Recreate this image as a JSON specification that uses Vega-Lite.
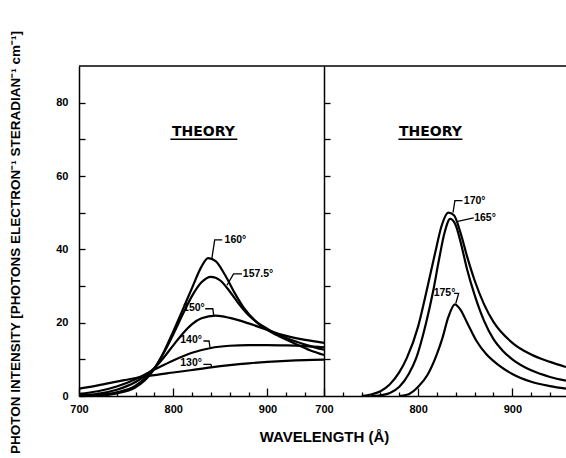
{
  "$schema": "https://vega.github.io/schema/vega-lite/v6.json",
  "padding": {"left": 7, "top": 30, "right": 0, "bottom": 0},
  "background": "white",
  "spacing": 0,
  "bounds": "flush",
  "config": {
    "view": {"stroke": null},
    "axis": {
      "domainColor": "black", "domainWidth": 1.5, "tickColor": "black", "tickWidth": 1.3,
      "labelColor": "black", "labelFont": "Liberation Sans", "labelFontWeight": "bold", "labelFontSize": 11,
      "titleColor": "black", "titleFont": "Liberation Sans", "titleFontWeight": "bold", "grid": false
    }
  },
  "datasets": {
    "curves": [
      {"panel": "L", "angle": "130", "wl": 700, "v": 2.0}, {"panel": "L", "angle": "130", "wl": 720, "v": 2.9}, {"panel": "L", "angle": "130", "wl": 740, "v": 3.9}, {"panel": "L", "angle": "130", "wl": 760, "v": 4.9}, {"panel": "L", "angle": "130", "wl": 780, "v": 5.7}, {"panel": "L", "angle": "130", "wl": 800, "v": 6.4}, {"panel": "L", "angle": "130", "wl": 820, "v": 7.1}, {"panel": "L", "angle": "130", "wl": 840, "v": 7.8}, {"panel": "L", "angle": "130", "wl": 860, "v": 8.4}, {"panel": "L", "angle": "130", "wl": 880, "v": 8.9}, {"panel": "L", "angle": "130", "wl": 900, "v": 9.3}, {"panel": "L", "angle": "130", "wl": 920, "v": 9.6}, {"panel": "L", "angle": "130", "wl": 940, "v": 9.8}, {"panel": "L", "angle": "130", "wl": 960, "v": 9.9},
      {"panel": "L", "angle": "140", "wl": 700, "v": 0.6}, {"panel": "L", "angle": "140", "wl": 720, "v": 1.3}, {"panel": "L", "angle": "140", "wl": 740, "v": 2.6}, {"panel": "L", "angle": "140", "wl": 760, "v": 4.6}, {"panel": "L", "angle": "140", "wl": 780, "v": 7.2}, {"panel": "L", "angle": "140", "wl": 800, "v": 9.7}, {"panel": "L", "angle": "140", "wl": 820, "v": 11.8}, {"panel": "L", "angle": "140", "wl": 840, "v": 13.1}, {"panel": "L", "angle": "140", "wl": 860, "v": 13.7}, {"panel": "L", "angle": "140", "wl": 880, "v": 13.9}, {"panel": "L", "angle": "140", "wl": 900, "v": 13.9}, {"panel": "L", "angle": "140", "wl": 920, "v": 13.8}, {"panel": "L", "angle": "140", "wl": 940, "v": 13.6}, {"panel": "L", "angle": "140", "wl": 960, "v": 13.3},
      {"panel": "L", "angle": "150", "wl": 700, "v": 0.2}, {"panel": "L", "angle": "150", "wl": 720, "v": 0.6}, {"panel": "L", "angle": "150", "wl": 740, "v": 1.7}, {"panel": "L", "angle": "150", "wl": 760, "v": 3.8}, {"panel": "L", "angle": "150", "wl": 770, "v": 5.5}, {"panel": "L", "angle": "150", "wl": 780, "v": 7.6}, {"panel": "L", "angle": "150", "wl": 790, "v": 10.5}, {"panel": "L", "angle": "150", "wl": 800, "v": 13.8}, {"panel": "L", "angle": "150", "wl": 810, "v": 17.0}, {"panel": "L", "angle": "150", "wl": 820, "v": 19.6}, {"panel": "L", "angle": "150", "wl": 830, "v": 21.2}, {"panel": "L", "angle": "150", "wl": 845, "v": 21.9}, {"panel": "L", "angle": "150", "wl": 860, "v": 21.3}, {"panel": "L", "angle": "150", "wl": 880, "v": 19.8}, {"panel": "L", "angle": "150", "wl": 900, "v": 18.0}, {"panel": "L", "angle": "150", "wl": 920, "v": 16.4}, {"panel": "L", "angle": "150", "wl": 940, "v": 15.3}, {"panel": "L", "angle": "150", "wl": 960, "v": 14.5},
      {"panel": "L", "angle": "157.5", "wl": 700, "v": 0.0}, {"panel": "L", "angle": "157.5", "wl": 720, "v": 0.3}, {"panel": "L", "angle": "157.5", "wl": 740, "v": 1.0}, {"panel": "L", "angle": "157.5", "wl": 760, "v": 2.8}, {"panel": "L", "angle": "157.5", "wl": 770, "v": 4.8}, {"panel": "L", "angle": "157.5", "wl": 780, "v": 7.6}, {"panel": "L", "angle": "157.5", "wl": 790, "v": 11.8}, {"panel": "L", "angle": "157.5", "wl": 800, "v": 16.8}, {"panel": "L", "angle": "157.5", "wl": 810, "v": 22.2}, {"panel": "L", "angle": "157.5", "wl": 820, "v": 27.3}, {"panel": "L", "angle": "157.5", "wl": 830, "v": 31.0}, {"panel": "L", "angle": "157.5", "wl": 840, "v": 32.5}, {"panel": "L", "angle": "157.5", "wl": 850, "v": 31.5}, {"panel": "L", "angle": "157.5", "wl": 860, "v": 28.5}, {"panel": "L", "angle": "157.5", "wl": 870, "v": 25.0}, {"panel": "L", "angle": "157.5", "wl": 880, "v": 22.0}, {"panel": "L", "angle": "157.5", "wl": 900, "v": 18.3}, {"panel": "L", "angle": "157.5", "wl": 920, "v": 15.8}, {"panel": "L", "angle": "157.5", "wl": 940, "v": 14.0}, {"panel": "L", "angle": "157.5", "wl": 960, "v": 12.6},
      {"panel": "L", "angle": "160", "wl": 700, "v": 0.0}, {"panel": "L", "angle": "160", "wl": 720, "v": 0.1}, {"panel": "L", "angle": "160", "wl": 740, "v": 0.7}, {"panel": "L", "angle": "160", "wl": 760, "v": 2.4}, {"panel": "L", "angle": "160", "wl": 770, "v": 4.3}, {"panel": "L", "angle": "160", "wl": 780, "v": 7.4}, {"panel": "L", "angle": "160", "wl": 790, "v": 12.0}, {"panel": "L", "angle": "160", "wl": 800, "v": 17.6}, {"panel": "L", "angle": "160", "wl": 810, "v": 23.5}, {"panel": "L", "angle": "160", "wl": 820, "v": 29.5}, {"panel": "L", "angle": "160", "wl": 830, "v": 35.3}, {"panel": "L", "angle": "160", "wl": 837, "v": 37.6}, {"panel": "L", "angle": "160", "wl": 845, "v": 36.8}, {"panel": "L", "angle": "160", "wl": 855, "v": 33.0}, {"panel": "L", "angle": "160", "wl": 865, "v": 28.2}, {"panel": "L", "angle": "160", "wl": 875, "v": 24.0}, {"panel": "L", "angle": "160", "wl": 890, "v": 19.8}, {"panel": "L", "angle": "160", "wl": 910, "v": 16.6}, {"panel": "L", "angle": "160", "wl": 930, "v": 14.2}, {"panel": "L", "angle": "160", "wl": 945, "v": 12.5}, {"panel": "L", "angle": "160", "wl": 960, "v": 11.2},
      {"panel": "R", "angle": "165", "wl": 750, "v": 0.0}, {"panel": "R", "angle": "165", "wl": 760, "v": 0.2}, {"panel": "R", "angle": "165", "wl": 770, "v": 0.8}, {"panel": "R", "angle": "165", "wl": 780, "v": 2.5}, {"panel": "R", "angle": "165", "wl": 790, "v": 6.0}, {"panel": "R", "angle": "165", "wl": 798, "v": 10.4}, {"panel": "R", "angle": "165", "wl": 808, "v": 19.5}, {"panel": "R", "angle": "165", "wl": 816, "v": 28.7}, {"panel": "R", "angle": "165", "wl": 822, "v": 37.0}, {"panel": "R", "angle": "165", "wl": 828, "v": 44.5}, {"panel": "R", "angle": "165", "wl": 834, "v": 48.3}, {"panel": "R", "angle": "165", "wl": 840, "v": 46.5}, {"panel": "R", "angle": "165", "wl": 846, "v": 41.0}, {"panel": "R", "angle": "165", "wl": 852, "v": 34.5}, {"panel": "R", "angle": "165", "wl": 860, "v": 27.5}, {"panel": "R", "angle": "165", "wl": 870, "v": 20.5}, {"panel": "R", "angle": "165", "wl": 880, "v": 15.5}, {"panel": "R", "angle": "165", "wl": 890, "v": 12.3}, {"panel": "R", "angle": "165", "wl": 900, "v": 10.0}, {"panel": "R", "angle": "165", "wl": 920, "v": 7.0}, {"panel": "R", "angle": "165", "wl": 940, "v": 5.2}, {"panel": "R", "angle": "165", "wl": 957, "v": 4.2},
      {"panel": "R", "angle": "170", "wl": 740, "v": 0.0}, {"panel": "R", "angle": "170", "wl": 750, "v": 0.4}, {"panel": "R", "angle": "170", "wl": 760, "v": 1.3}, {"panel": "R", "angle": "170", "wl": 770, "v": 3.2}, {"panel": "R", "angle": "170", "wl": 780, "v": 6.5}, {"panel": "R", "angle": "170", "wl": 788, "v": 10.4}, {"panel": "R", "angle": "170", "wl": 800, "v": 19.0}, {"panel": "R", "angle": "170", "wl": 809, "v": 28.7}, {"panel": "R", "angle": "170", "wl": 818, "v": 39.0}, {"panel": "R", "angle": "170", "wl": 825, "v": 46.5}, {"panel": "R", "angle": "170", "wl": 832, "v": 50.0}, {"panel": "R", "angle": "170", "wl": 838, "v": 49.3}, {"panel": "R", "angle": "170", "wl": 845, "v": 44.5}, {"panel": "R", "angle": "170", "wl": 852, "v": 38.0}, {"panel": "R", "angle": "170", "wl": 860, "v": 31.5}, {"panel": "R", "angle": "170", "wl": 870, "v": 25.0}, {"panel": "R", "angle": "170", "wl": 880, "v": 20.2}, {"panel": "R", "angle": "170", "wl": 900, "v": 14.5}, {"panel": "R", "angle": "170", "wl": 920, "v": 11.3}, {"panel": "R", "angle": "170", "wl": 940, "v": 9.3}, {"panel": "R", "angle": "170", "wl": 957, "v": 7.9},
      {"panel": "R", "angle": "175", "wl": 780, "v": 0.0}, {"panel": "R", "angle": "175", "wl": 790, "v": 0.5}, {"panel": "R", "angle": "175", "wl": 800, "v": 2.5}, {"panel": "R", "angle": "175", "wl": 810, "v": 5.8}, {"panel": "R", "angle": "175", "wl": 820, "v": 11.5}, {"panel": "R", "angle": "175", "wl": 826, "v": 16.0}, {"panel": "R", "angle": "175", "wl": 832, "v": 21.5}, {"panel": "R", "angle": "175", "wl": 839, "v": 25.0}, {"panel": "R", "angle": "175", "wl": 845, "v": 23.5}, {"panel": "R", "angle": "175", "wl": 852, "v": 20.0}, {"panel": "R", "angle": "175", "wl": 862, "v": 15.0}, {"panel": "R", "angle": "175", "wl": 872, "v": 11.5}, {"panel": "R", "angle": "175", "wl": 884, "v": 8.7}, {"panel": "R", "angle": "175", "wl": 900, "v": 6.0}, {"panel": "R", "angle": "175", "wl": 920, "v": 3.9}, {"panel": "R", "angle": "175", "wl": 940, "v": 2.7}, {"panel": "R", "angle": "175", "wl": 957, "v": 2.0}
    ],
    "leaders": [
      {"panel": "L", "id": "160", "k": 1, "wl": 841, "v": 37.5}, {"panel": "L", "id": "160", "k": 2, "wl": 844, "v": 42.6}, {"panel": "L", "id": "160", "k": 3, "wl": 852, "v": 42.6},
      {"panel": "L", "id": "157.5", "k": 1, "wl": 857, "v": 30.2}, {"panel": "L", "id": "157.5", "k": 2, "wl": 864, "v": 33.3}, {"panel": "L", "id": "157.5", "k": 3, "wl": 873, "v": 33.3},
      {"panel": "L", "id": "150", "k": 1, "wl": 834, "v": 23.8}, {"panel": "L", "id": "150", "k": 2, "wl": 842, "v": 23.8}, {"panel": "L", "id": "150", "k": 3, "wl": 843, "v": 21.9},
      {"panel": "L", "id": "140", "k": 1, "wl": 832, "v": 15.0}, {"panel": "L", "id": "140", "k": 2, "wl": 838, "v": 15.0}, {"panel": "L", "id": "140", "k": 3, "wl": 839, "v": 13.3},
      {"panel": "L", "id": "130", "k": 1, "wl": 832, "v": 8.6}, {"panel": "L", "id": "130", "k": 2, "wl": 840, "v": 8.6}, {"panel": "L", "id": "130", "k": 3, "wl": 841, "v": 7.8},
      {"panel": "R", "id": "170", "k": 1, "wl": 837, "v": 50.0}, {"panel": "R", "id": "170", "k": 2, "wl": 839, "v": 53.3}, {"panel": "R", "id": "170", "k": 3, "wl": 847, "v": 53.3},
      {"panel": "R", "id": "165", "k": 1, "wl": 842, "v": 47.6}, {"panel": "R", "id": "165", "k": 2, "wl": 859, "v": 48.6},
      {"panel": "R", "id": "175", "k": 1, "wl": 838, "v": 28.0}, {"panel": "R", "id": "175", "k": 2, "wl": 843, "v": 28.0}, {"panel": "R", "id": "175", "k": 3, "wl": 840, "v": 25.3}
    ],
    "labels": [
      {"panel": "L", "text": "160°", "wl": 866, "v": 42.6},
      {"panel": "L", "text": "157.5°", "wl": 890, "v": 33.3},
      {"panel": "L", "text": "150°", "wl": 822, "v": 24.0},
      {"panel": "L", "text": "140°", "wl": 819, "v": 15.3},
      {"panel": "L", "text": "130°", "wl": 819, "v": 9.0},
      {"panel": "R", "text": "170°", "wl": 860, "v": 53.3},
      {"panel": "R", "text": "165°", "wl": 871, "v": 48.6},
      {"panel": "R", "text": "175°", "wl": 828, "v": 28.1}
    ],
    "theory": [
      {"panel": "L", "text": "THEORY", "wl": 832, "v": 71.9},
      {"panel": "R", "text": "THEORY", "wl": 813, "v": 71.9}
    ],
    "rules": [
      {"panel": "L", "kind": "underline", "wl": 797, "wl2": 868, "v": 70.0},
      {"panel": "R", "kind": "underline", "wl": 779, "wl2": 847, "v": 70.0},
      {"panel": "L", "kind": "frame", "wl": 700, "wl2": 960, "v": 90},
      {"panel": "R", "kind": "frame", "wl": 700, "wl2": 957, "v": 90}
    ]
  },
  "hconcat": [
    {
      "width": 245,
      "height": 330,
      "encoding": {
        "x": {
          "field": "wl", "type": "quantitative",
          "scale": {"domain": [700, 960], "nice": false, "zero": false},
          "axis": {
            "values": [700, 720, 740, 760, 780, 800, 820, 840, 860, 880, 900, 920, 940],
            "labelExpr": "datum.value % 100 === 0 ? datum.label : ''",
            "format": "d",
            "tickSize": {"condition": {"test": "datum.value % 100 === 0", "value": -8}, "value": -4},
            "labelPadding": 15, "labelFlush": false,
            "title": "WAVELENGTH (Å)", "titleFontSize": 15,
            "titleX": 245, "titleY": 40, "titleAlign": "center", "titleBaseline": "middle"
          }
        },
        "y": {
          "field": "v", "type": "quantitative",
          "scale": {"domain": [0, 90], "nice": false},
          "axis": {
            "values": [0, 10, 20, 30, 40, 50, 60, 70, 80],
            "labelExpr": "datum.value % 20 === 0 ? datum.label : ''",
            "tickSize": -6, "labelPadding": 17,
            "title": "PHOTON INTENSITY [PHOTONS ELECTRON⁻¹ STERADIAN⁻¹ cm⁻¹]",
            "titleFontSize": 13.5, "titleAngle": 270,
            "titleX": -64, "titleY": 176, "titleAlign": "center", "titleBaseline": "middle"
          }
        }
      },
      "layer": [
        {"data": {"name": "curves"}, "transform": [{"filter": "datum.panel === 'L'"}],
         "mark": {"type": "line", "color": "black", "strokeWidth": 2.2, "interpolate": "monotone"},
         "encoding": {"detail": {"field": "angle"}}},
        {"data": {"name": "leaders"}, "transform": [{"filter": "datum.panel === 'L'"}],
         "mark": {"type": "line", "color": "black", "strokeWidth": 1.3},
         "encoding": {"detail": {"field": "id"}, "order": {"field": "k"}}},
        {"data": {"name": "labels"}, "transform": [{"filter": "datum.panel === 'L'"}],
         "mark": {"type": "text", "font": "Liberation Sans", "fontWeight": "bold", "fontSize": 10.5, "color": "black", "align": "center", "baseline": "middle"},
         "encoding": {"text": {"field": "text"}}},
        {"data": {"name": "theory"}, "transform": [{"filter": "datum.panel === 'L'"}],
         "mark": {"type": "text", "font": "DejaVu Sans", "fontWeight": "bold", "fontSize": 14, "color": "black", "align": "center", "baseline": "middle"},
         "encoding": {"text": {"field": "text"}}},
        {"data": {"name": "rules"}, "transform": [{"filter": "datum.panel === 'L'"}],
         "mark": {"type": "rule", "color": "black", "strokeWidth": 1.5},
         "encoding": {"x2": {"field": "wl2"}}}
      ]
    },
    {
      "width": 242,
      "height": 330,
      "encoding": {
        "x": {
          "field": "wl", "type": "quantitative",
          "scale": {"domain": [700, 957], "nice": false, "zero": false},
          "axis": {
            "values": [700, 720, 740, 760, 780, 800, 820, 840, 860, 880, 900, 920, 940],
            "labelExpr": "datum.value % 100 === 0 ? datum.label : ''",
            "format": "d",
            "tickSize": {"condition": {"test": "datum.value % 100 === 0", "value": -8}, "value": -4},
            "labelPadding": 15, "labelFlush": false,
            "title": null
          }
        },
        "y": {
          "field": "v", "type": "quantitative",
          "scale": {"domain": [0, 90], "nice": false},
          "axis": {
            "values": [10, 20, 30, 40, 50, 60, 70, 80],
            "labels": false, "tickSize": -6, "title": null
          }
        }
      },
      "layer": [
        {"data": {"name": "curves"}, "transform": [{"filter": "datum.panel === 'R'"}],
         "mark": {"type": "line", "color": "black", "strokeWidth": 2.2, "interpolate": "monotone"},
         "encoding": {"detail": {"field": "angle"}}},
        {"data": {"name": "leaders"}, "transform": [{"filter": "datum.panel === 'R'"}],
         "mark": {"type": "line", "color": "black", "strokeWidth": 1.3},
         "encoding": {"detail": {"field": "id"}, "order": {"field": "k"}}},
        {"data": {"name": "labels"}, "transform": [{"filter": "datum.panel === 'R'"}],
         "mark": {"type": "text", "font": "Liberation Sans", "fontWeight": "bold", "fontSize": 10.5, "color": "black", "align": "center", "baseline": "middle"},
         "encoding": {"text": {"field": "text"}}},
        {"data": {"name": "theory"}, "transform": [{"filter": "datum.panel === 'R'"}],
         "mark": {"type": "text", "font": "DejaVu Sans", "fontWeight": "bold", "fontSize": 14, "color": "black", "align": "center", "baseline": "middle"},
         "encoding": {"text": {"field": "text"}}},
        {"data": {"name": "rules"}, "transform": [{"filter": "datum.panel === 'R'"}],
         "mark": {"type": "rule", "color": "black", "strokeWidth": 1.5},
         "encoding": {"x2": {"field": "wl2"}}}
      ]
    }
  ]
}
